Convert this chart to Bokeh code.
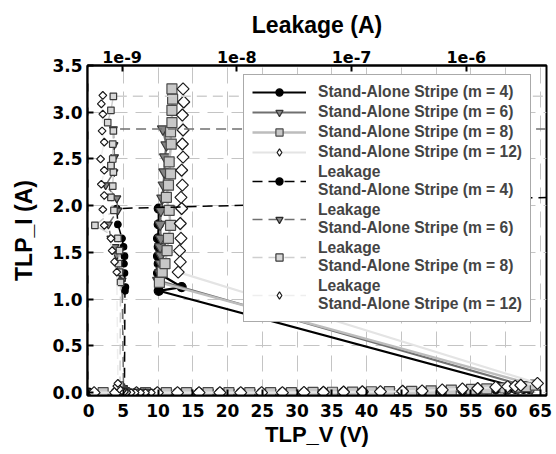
import numpy as np
from bokeh.plotting import figure
from bokeh.models import (Range1d, LogScale, LogAxis, FixedTicker, NumeralTickFormatter,
                          CustomJSTickFormatter, Legend, LegendItem)
from bokeh.embed import file_html
from bokeh.resources import INLINE

# ---------------- data ----------------
# TLP I-V curves (bottom axis: TLP_V, left axis: TLP_I)
v_m4 = [0.0, 3.9, 6.9, 9.9, 12.8, 15.9, 18.9, 21.9, 24.9, 27.9, 31.0, 33.8, 36.7, 39.4, 42.0,
        45.2, 48.0, 50.9, 53.8, 56.0, 58.6, 60.3, 61.4, 63.4, 62.6,
        10.1, 13.4, 10.0, 10.1, 10.0, 10.1, 10.0, 10.1, 10.1]
i_m4 = [0.0, 0.0, 0.0, 0.0, 0.0, 0.0, 0.0, 0.0, 0.0, 0.0, 0.002, 0.004, 0.006, 0.008, 0.01,
        0.012, 0.015, 0.02, 0.025, 0.03, 0.035, 0.035, 0.04, 0.04, 0.04,
        1.09, 1.13, 1.28, 1.38, 1.46, 1.56, 1.65, 1.80, 1.97]

v_m6 = [0.0, 5.2, 8.2, 11.2, 14.1, 17.2, 20.2, 23.2, 26.2, 29.2, 32.3, 35.1, 38.0, 40.7, 43.3,
        46.5, 49.3, 52.2, 55.1, 57.3, 59.9, 61.8, 63.8,
        10.0, 10.3, 10.4, 10.4, 10.3, 10.4, 10.3, 10.4, 10.6, 10.8, 10.9, 11.0, 11.2, 10.7]
i_m6 = [0.0, 0.0, 0.0, 0.0, 0.0, 0.0, 0.0, 0.0, 0.0, 0.0, 0.003, 0.005, 0.007, 0.01, 0.012,
        0.015, 0.02, 0.025, 0.03, 0.035, 0.04, 0.045, 0.05,
        1.20, 1.28, 1.38, 1.47, 1.56, 1.65, 1.80, 1.95, 2.08, 2.22, 2.36, 2.52, 2.65, 2.82]

v_m8 = [2.1, 5.2, 8.2, 11.2, 14.1, 17.2, 20.2, 23.2, 26.2, 29.2, 32.3, 35.1, 38.0, 40.7, 43.3,
        46.5, 49.3, 52.2, 55.1, 57.3, 59.9, 61.8, 63.0, 64.3,
        10.2, 10.6, 11.0, 11.3, 11.5, 11.8, 11.6, 11.2, 11.5, 11.8, 11.6, 11.9, 11.8, 12.0,
        12.0, 12.1, 12.0]
i_m8 = [0.0, 0.0, 0.0, 0.0, 0.0, 0.0, 0.0, 0.0, 0.0, 0.0, 0.003, 0.005, 0.007, 0.01, 0.012,
        0.015, 0.02, 0.028, 0.035, 0.04, 0.05, 0.06, 0.065, 0.08,
        1.18, 1.29, 1.38, 1.52, 1.65, 1.79, 1.95, 2.09, 2.22, 2.34, 2.47, 2.66, 2.79, 2.89,
        3.02, 3.14, 3.25]

v_m12 = [0.8, 3.9, 6.9, 9.9, 12.8, 15.9, 18.9, 21.9, 24.9, 27.9, 31.0, 33.8, 36.7, 39.4, 42.0,
         45.2, 48.0, 50.9, 53.8, 56.0, 58.6, 60.3, 61.4, 62.2, 64.6,
         12.9, 13.2, 13.1, 13.3, 13.2, 13.4, 13.3, 13.5, 13.4, 13.6, 13.5, 13.6, 13.5, 13.7, 13.6]
i_m12 = [0.0, 0.0, 0.0, 0.0, 0.0, 0.0, 0.0, 0.0, 0.0, 0.0, 0.003, 0.005, 0.007, 0.01, 0.012,
         0.015, 0.02, 0.03, 0.04, 0.045, 0.06, 0.065, 0.07, 0.08, 0.10,
         1.29, 1.40, 1.52, 1.65, 1.81, 1.97, 2.09, 2.22, 2.38, 2.52, 2.66, 2.81, 2.97, 3.11, 3.25]

# Leakage curves (top axis: Leakage, left axis: TLP_I)
lk_m4 = [1.55e-9, 1.45e-9, 1.35e-9, 1.25e-9, 1.2e-9, 1.15e-9, 1.1e-9, 1.08e-9, 1.06e-9, 1.05e-9,
         1.06e-9, 1.07e-9, 1.05e-9, 1.04e-9, 1.05e-9, 1.03e-9, 1.0e-9, 0.92e-9, 0.9e-9, 1e-4]
li_m4 = [0.0, 0.0, 0.0, 0.0, 0.0, 0.005, 0.01, 0.02, 0.03, 0.04,
         1.09, 1.13, 1.28, 1.38, 1.46, 1.56, 1.65, 1.80, 1.97, 2.13]

lk_m6 = [1.7e-9, 1.5e-9, 1.4e-9, 1.3e-9, 1.2e-9, 1.15e-9, 1.1e-9, 1.07e-9, 1.05e-9, 1.03e-9,
         1.0e-9, 0.96e-9, 0.93e-9, 0.9e-9, 0.87e-9, 0.8e-9, 0.76e-9, 0.92e-9, 0.9e-9, 0.72e-9,
         0.85e-9, 0.86e-9, 0.85e-9, 0.84e-9, 1e-4]
li_m6 = [0.0, 0.0, 0.0, 0.0, 0.0, 0.005, 0.01, 0.02, 0.03, 0.05,
         1.20, 1.28, 1.38, 1.47, 1.56, 1.65, 1.80, 1.95, 2.08, 2.22, 2.36, 2.52, 2.65, 2.82, 2.82]

lk_m8 = [1.75e-9, 1.6e-9, 1.45e-9, 1.3e-9, 1.2e-9, 1.12e-9, 1.08e-9, 1.04e-9, 1.0e-9, 0.98e-9,
         0.96e-9, 0.97e-9, 0.95e-9, 0.93e-9, 0.95e-9, 0.92e-9, 0.58e-9, 0.85e-9, 0.8e-9, 0.83e-9,
         0.84e-9, 0.8e-9, 0.83e-9, 0.83e-9, 0.84e-9, 0.75e-9, 0.8e-9, 0.84e-9, 1e-4]
li_m8 = [0.0, 0.0, 0.0, 0.0, 0.0, 0.005, 0.01, 0.02, 0.04, 0.06, 0.08,
         1.18, 1.29, 1.38, 1.52, 1.65, 1.79, 1.95, 2.09, 2.21, 2.36, 2.43, 2.50, 2.66, 2.80,
         2.89, 3.02, 3.17, 3.17]

lk_m12 = [1.8e-9, 1.6e-9, 1.45e-9, 1.3e-9, 1.2e-9, 1.1e-9, 1.05e-9, 1.0e-9, 0.95e-9, 0.9e-9,
          0.92e-9, 0.9e-9, 0.86e-9, 0.82e-9, 0.8e-9, 0.7e-9, 0.68e-9, 0.7e-9, 0.66e-9, 0.7e-9,
          0.65e-9, 0.7e-9, 0.67e-9, 0.68e-9, 0.66e-9, 0.68e-9]
li_m12 = [0.0, 0.0, 0.0, 0.0, 0.0, 0.005, 0.01, 0.02, 0.04, 0.07, 0.10,
          1.29, 1.40, 1.52, 1.65, 1.79, 1.96, 2.11, 2.23, 2.38, 2.50, 2.68, 2.80, 2.98, 3.09, 3.18]

x_ticks = [0, 5, 10, 15, 20, 25, 30, 35, 40, 45, 50, 55, 60, 65]
y_ticks = [0.0, 0.5, 1.0, 1.5, 2.0, 2.5, 3.0, 3.5]
leak_ticks = [1e-9, 1e-8, 1e-7, 1e-6]

labels_iv = ["Stand-Alone Stripe (m = 4)", "Stand-Alone Stripe (m = 6)",
             "Stand-Alone Stripe (m = 8)", "Stand-Alone Stripe (m = 12)"]
labels_lk = ["Leakage\nStand-Alone Stripe (m = 4)", "Leakage\nStand-Alone Stripe (m = 6)",
             "Leakage\nStand-Alone Stripe (m = 8)", "Leakage\nStand-Alone Stripe (m = 12)"]

# ---------------- figure ----------------
FONT = "Liberation Sans"
TICK_FONT = "DejaVu Sans"
p = figure(width=556, height=454, x_range=Range1d(-0.15, 65.9), y_range=Range1d(-0.03, 3.5),
           output_backend="svg", toolbar_location=None,
           min_border_left=87, min_border_right=10, min_border_top=65, min_border_bottom=59)
p.background_fill_color = "white"
p.border_fill_color = "white"
p.outline_line_color = "black"
p.outline_line_width = 2

p.extra_x_ranges = {"leak": Range1d(5e-10, 5e-6)}
p.extra_x_scales = {"leak": LogScale()}


def style_axis(ax, label_standoff, tick_standoff, tick_size="17px", label_size="22px"):
    ax.axis_line_color = "black"
    ax.axis_line_width = 2
    ax.major_tick_in = 6
    ax.major_tick_out = 0
    ax.major_tick_line_width = 2
    ax.minor_tick_line_color = None
    ax.major_label_text_font = TICK_FONT
    ax.major_label_text_font_style = "bold"
    ax.major_label_text_font_size = tick_size
    ax.major_label_text_color = "black"
    ax.axis_label_text_font = FONT
    ax.axis_label_text_font_style = "bold"
    ax.axis_label_text_font_size = label_size
    ax.axis_label_text_color = "black"
    ax.axis_label_standoff = label_standoff
    ax.major_label_standoff = tick_standoff


xa = p.below[0]
xa.ticker = FixedTicker(ticks=x_ticks)
xa.axis_label = "TLP_V (V)"
style_axis(xa, 2, 8)

ya = p.left[0]
ya.ticker = FixedTicker(ticks=y_ticks)
ya.formatter = NumeralTickFormatter(format="0.0")
ya.axis_label = "TLP_I (A)"
style_axis(ya, 12, 5, label_size="23px")

top = LogAxis(x_range_name="leak", axis_label="Leakage (A)")
top.ticker = FixedTicker(ticks=leak_ticks)
top.formatter = CustomJSTickFormatter(code="return '1e' + Math.round(Math.log10(tick));")
style_axis(top, 10, 3, tick_size="16px", label_size="23px")
p.add_layout(top, "above")

for g in (p.xgrid[0], p.ygrid[0]):
    g.grid_line_color = "#c4c4c4"
    g.grid_line_dash = "16 8"
    g.grid_line_width = 1
p.xgrid[0].ticker = FixedTicker(ticks=x_ticks)
p.ygrid[0].ticker = FixedTicker(ticks=y_ticks)

# ---------------- I-V curves ----------------
iv_specs = [
    (v_m4, i_m4, "black", 2.2, "circle", 9, "black", "black", 0.0),
    (v_m6, i_m6, "#707070", 2.2, "inverted_triangle", 11, "#858585", "#3a3a3a", 0.0),
    (v_m8, i_m8, "#bdbdbd", 2.5, "square", 10, "#c8c8c8", "#4a4a4a", 0.0),
    (v_m12, i_m12, "#e4e4e4", 2.2, "square", 8.5, "white", "#1a1a1a", np.pi / 4),
]
iv_items = []
for (vx, iy, lc, lw, mk, ms, fc, oc, ang), lab in zip(iv_specs, labels_iv):
    lr = p.line(vx, iy, line_color=lc, line_width=lw)
    sr = p.scatter(vx, iy, marker=mk, size=ms, fill_color=fc, line_color=oc,
                   line_width=1.2, angle=ang)
    if ang:
        # legend sample: a diamond (legend glyphs are drawn unrotated)
        sr = p.scatter([np.nan], [np.nan], marker="diamond", size=ms, fill_color=fc,
                       line_color=oc, line_width=1.2)
    iv_items.append(LegendItem(label=lab, renderers=[lr, sr]))

# ---------------- leakage curves ----------------
lk_specs = [
    (lk_m4, li_m4, "black", "circle", 6.5, "black", "black", 0.0),
    (lk_m6, li_m6, "#707070", "inverted_triangle", 8, "#858585", "#2a2a2a", 0.0),
    (lk_m8, li_m8, "#cfcfcf", "square", 6.5, "#d8d8d8", "#3a3a3a", 0.0),
    (lk_m12, li_m12, "#eeeeee", "square", 5.5, "white", "#1a1a1a", np.pi / 4),
]
lk_items = []
for (lx, ly, lc, mk, ms, fc, oc, ang), lab in zip(lk_specs, labels_lk):
    lr = p.line(lx, ly, line_color=lc, line_width=1.5, line_dash="10 6", x_range_name="leak")
    sr = p.scatter(lx, ly, marker=mk, size=ms, fill_color=fc, line_color=oc, line_width=1.2,
                   angle=ang, x_range_name="leak")
    if ang:
        sr = p.scatter([np.nan], [np.nan], marker="diamond", size=ms, fill_color=fc,
                       line_color=oc, line_width=1.2, x_range_name="leak")
    lk_items.append(LegendItem(label=lab, renderers=[lr, sr]))

legend = Legend(items=iv_items + lk_items, location=(156, 73))
legend.label_text_font = FONT
legend.label_text_font_style = "bold"
legend.label_text_font_size = "15.6px"
legend.label_height = 18
legend.glyph_height = 18
legend.glyph_width = 54
legend.label_standoff = 12
legend.spacing = 2
legend.padding = 8
legend.margin = 0
legend.border_line_color = "#555555"
legend.border_line_width = 1.5
legend.background_fill_color = "white"
legend.background_fill_alpha = 1.0
p.add_layout(legend, "center")

open("out.html", "w").write(file_html(p, INLINE))
